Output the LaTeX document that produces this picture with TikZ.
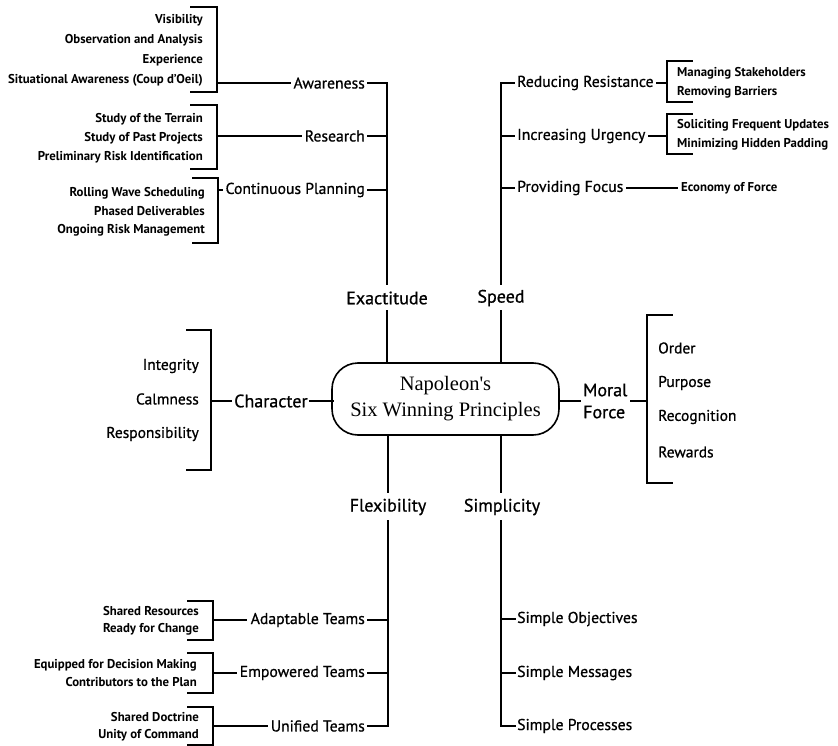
\documentclass[tikz,border=0pt]{standalone}
\usepackage{fontspec}
\setsansfont{PT Sans}
\newfontfamily\medsans{PT Sans}[FakeBold=0.8]
\newfontfamily\cserif{Liberation Serif}
\begin{document}
\begin{tikzpicture}[x=1pt,y=-1pt,
  ln/.style={line width=1.6pt, line cap=rect},
  lab/.style={font=\medsans\fontsize{15.7}{18}\selectfont, inner sep=0pt},
  prin/.style={font=\medsans\fontsize{18}{22}\selectfont, inner sep=0pt},
  itm/.style={font=\sffamily\bfseries\fontsize{12.8}{14}\selectfont, inner sep=0pt},
  itmb/.style={font=\medsans\fontsize{15.5}{17}\selectfont, inner sep=0pt},
  hub/.style={draw, line width=1.6pt, rounded corners=26pt, minimum width=227pt, minimum height=72pt, align=center, font=\cserif\fontsize{20.5}{26}\selectfont}
]
\useasboundingbox (0,0) rectangle (838,746);

% ---------- centre ----------
\node[hub] (box) at (445.5,399) {Napoleon's\\Six Winning Principles};

% ---------- Exactitude (top left) ----------
\node[itm, anchor=east] (vis) at (203,20) {Visibility};
\node[itm, anchor=east] (obs) at (203,40) {Observation and Analysis};
\node[itm, anchor=east] (exq) at (203,60) {Experience};
\node[itm, anchor=east] (sit) at (203,80) {Situational Awareness (Coup d'Oeil)};
\draw[ln] (191,7) -- (217,7) -- (217,92) -- (191,92);
\coordinate (awB) at (217,83);
\node[lab, anchor=east] (aw) at (365,83) {Awareness};
\coordinate (awJ) at (387,83);

\node[itm, anchor=east] (st) at (203,119) {Study of the Terrain};
\node[itm, anchor=east] (sp) at (203,138) {Study of Past Projects};
\node[itm, anchor=east] (pr) at (203,157) {Preliminary Risk Identification};
\draw[ln] (191,105) -- (217,105) -- (217,169) -- (191,169);
\coordinate (reB) at (217,136);
\node[lab, anchor=east] (re) at (365,136) {Research};
\coordinate (reJ) at (387,136);

\node[itm, anchor=east] (rw) at (205,193) {Rolling Wave Scheduling};
\node[itm, anchor=east] (pd) at (205,211) {Phased Deliverables};
\node[itm, anchor=east] (or) at (205,230) {Ongoing Risk Management};
\draw[ln] (193,178) -- (218,178) -- (218,243) -- (193,243);
\coordinate (cpB) at (218,190);
\node[lab, anchor=east] (cp) at (365,190) {Continuous Planning};
\coordinate (cpJ) at (387,190);

\coordinate (exT) at (387,284);
\node[prin] (ex) at (387,298) {Exactitude};
\coordinate (exB) at (387,311);

\draw[ln] (awB) -- ([xshift=-3pt]aw.west);
\draw[ln] ([xshift=3pt]aw.east) -- (awJ) -- (exT);
\draw[ln] (reB) -- ([xshift=-3pt]re.west);
\draw[ln] ([xshift=3pt]re.east) -- (reJ);
\draw[ln] (cpB) -- ([xshift=-3pt]cp.west);
\draw[ln] ([xshift=3pt]cp.east) -- (cpJ);
\draw[ln] (exB) -- (exB |- box.north);

% ---------- Speed (top right) ----------
\coordinate (rrJ) at (501,83);
\node[lab, anchor=west] (rr) at (517,83) {Reducing Resistance};
\coordinate (rrB) at (667,83);
\draw[ln] (692,61) -- (667,61) -- (667,102) -- (692,102);
\node[itm, anchor=west] (ms) at (677,73) {Managing Stakeholders};
\node[itm, anchor=west] (rb) at (677,92) {Removing Barriers};

\coordinate (iuJ) at (501,136);
\node[lab, anchor=west] (iu) at (517,136) {Increasing Urgency};
\coordinate (iuB) at (667,136);
\draw[ln] (692,114) -- (667,114) -- (667,154) -- (692,154);
\node[itm, anchor=west] (sf) at (677,125) {Soliciting Frequent Updates};
\node[itm, anchor=west] (mh) at (677,144) {Minimizing Hidden Padding};

\coordinate (pfJ) at (501,188);
\node[lab, anchor=west] (pf) at (517,188) {Providing Focus};
\node[itm, anchor=west] (ef) at (681,188) {Economy of Force};

\coordinate (spT) at (501,284);
\node[prin] (spd) at (501,298) {Speed};
\coordinate (spB) at (501,311);

\draw[ln] (spT) -- (rrJ) -- ([xshift=-3pt]rr.west);
\draw[ln] ([xshift=3pt]rr.east) -- (rrB);
\draw[ln] (iuJ) -- ([xshift=-3pt]iu.west);
\draw[ln] ([xshift=3pt]iu.east) -- (iuB);
\draw[ln] (pfJ) -- ([xshift=-3pt]pf.west);
\draw[ln] ([xshift=3pt]pf.east) -- ([xshift=-4pt]ef.west);
\draw[ln] (spB) -- (spB |- box.north);

% ---------- Character (left) ----------
\node[itmb, anchor=east] (ig) at (199,366) {Integrity};
\node[itmb, anchor=east] (cl) at (199,399) {Calmness};
\node[itmb, anchor=east] (rs) at (199,434) {Responsibility};
\draw[ln] (187,330) -- (211,330) -- (211,470) -- (187,470);
\coordinate (chB) at (211,401);
\node[prin, anchor=west] (ch) at (234,401) {Character};
\draw[ln] (chB) -- ([xshift=-3pt]ch.west);
\draw[ln] ([xshift=2pt]ch.east) -- ([xshift=2pt]ch.east -| box.west);

% ---------- Moral Force (right) ----------
\node[prin, anchor=west, align=left, font=\medsans\fontsize{18}{22}\selectfont] (mf) at (583,401) {Moral\\Force};
\draw[ln] (box.east |- mf.west) -- ([xshift=-3pt]mf.west);
\coordinate (mfB) at (647,401);
\draw[ln] ([xshift=3pt]mf.east) -- (mfB);
\draw[ln] (672,315) -- (647,315) -- (647,483) -- (672,483);
\node[itmb, anchor=west] (od) at (658,348) {Order};
\node[itmb, anchor=west] (pu) at (658,383) {Purpose};
\node[itmb, anchor=west] (rc) at (658,417) {Recognition};
\node[itmb, anchor=west] (rwd) at (658,452) {Rewards};

% ---------- Flexibility (bottom left) ----------
\coordinate (flT) at (388,492);
\node[prin] (fl) at (388,507) {Flexibility};
\coordinate (flB) at (388,521);
\draw[ln] (flT |- box.south) -- (flT);

\node[itm, anchor=east] (sr) at (199,611) {Shared Resources};
\node[itm, anchor=east] (rfc) at (199,629) {Ready for Change};
\draw[ln] (188,601) -- (213,601) -- (213,640) -- (188,640);
\coordinate (atB) at (213,620);
\node[lab, anchor=east] (at) at (365,620) {Adaptable Teams};
\coordinate (atJ) at (388,620);

\node[itm, anchor=east] (ed) at (197,665) {Equipped for Decision Making};
\node[itm, anchor=east] (ctp) at (197,682) {Contributors to the Plan};
\draw[ln] (188,653) -- (213,653) -- (213,693) -- (188,693);
\coordinate (etB) at (213,673);
\node[lab, anchor=east] (et) at (365,673) {Empowered Teams};
\coordinate (etJ) at (388,673);

\node[itm, anchor=east] (sd) at (199,717) {Shared Doctrine};
\node[itm, anchor=east] (uc) at (199,735) {Unity of Command};
\draw[ln] (188,707) -- (213,707) -- (213,745) -- (188,745);
\coordinate (utB) at (213,726);
\node[lab, anchor=east] (ut) at (365,726) {Unified Teams};
\coordinate (utJ) at (388,726);

\draw[ln] (flB) -- (utJ) -- ([xshift=3pt]ut.east);
\draw[ln] (atB) -- ([xshift=-4pt]at.west);
\draw[ln] ([xshift=3pt]at.east) -- (atJ);
\draw[ln] (etB) -- ([xshift=-3pt]et.west);
\draw[ln] ([xshift=3pt]et.east) -- (etJ);
\draw[ln] (utB) -- ([xshift=-3pt]ut.west);

% ---------- Simplicity (bottom right) ----------
\coordinate (siT) at (501,492);
\node[prin] (si) at (502,507) {Simplicity};
\coordinate (siB) at (501,521);
\draw[ln] (siT |- box.south) -- (siT);

\node[lab, anchor=west] (so) at (517,619) {Simple Objectives};
\node[lab, anchor=west] (sm) at (517,673) {Simple Messages};
\node[lab, anchor=west] (spr) at (517,726) {Simple Processes};
\coordinate (soJ) at (501,619);
\coordinate (smJ) at (501,673);
\coordinate (sprJ) at (501,726);
\draw[ln] (siB) -- (sprJ) -- ([xshift=-2pt]spr.west);
\draw[ln] (soJ) -- ([xshift=-2pt]so.west);
\draw[ln] (smJ) -- ([xshift=-2pt]sm.west);
\end{tikzpicture}
\end{document}
